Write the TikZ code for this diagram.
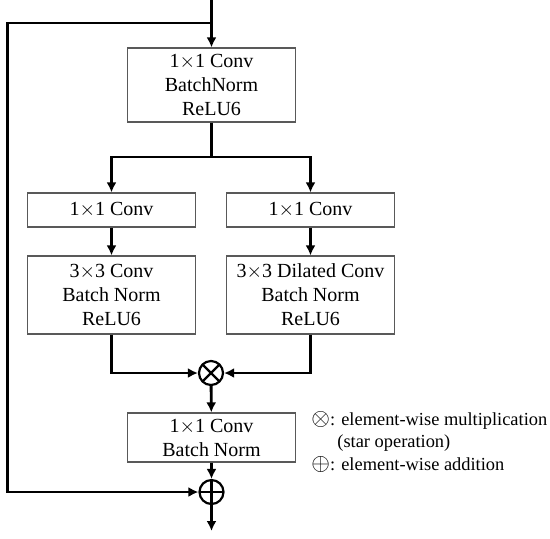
\documentclass[tikz,border=0pt]{standalone}
\usepackage{fontspec}
\setmainfont{Liberation Serif}
\usetikzlibrary{arrows.meta, positioning, calc}

\begin{document}
\begin{tikzpicture}[
  x=0.5pt, y=-0.5pt,
  block/.style = {draw=black!65, line width=0.6pt, minimum width=84pt, align=center, inner sep=2pt},
  op/.style = {draw, line width=1.1pt, circle, minimum size=12pt, inner sep=0pt},
  arrow/.style = {line width=1.4pt, -{Latex[length=5pt,width=5pt]}},
  line/.style = {line width=1.4pt}
]

  % bounding box
  \useasboundingbox (0,0) rectangle (550,538);

  % entry block
  \node[block, minimum height=37pt] (pw) at (211.5,85) {1$\times$1 Conv\\BatchNorm\\ReLU6};

  % two branches
  \node[block, minimum height=17pt] (convl) at (111.5,210) {1$\times$1 Conv};
  \node[block, minimum height=17pt] (convr) at (310.5,210) {1$\times$1 Conv};
  \node[block, minimum height=39pt] (dwl) at (111.5,295) {3$\times$3 Conv\\Batch Norm\\ReLU6};
  \node[block, minimum height=39pt] (dwr) at (310.5,295) {3$\times$3 Dilated Conv\\Batch Norm\\ReLU6};

  % star operation and projection
  \node[op, path picture={
      \draw[line width=1.1pt] (path picture bounding box.north west) -- (path picture bounding box.south east);
      \draw[line width=1.1pt] (path picture bounding box.north east) -- (path picture bounding box.south west);}]
    (mult) at (211,373) {};
  \node[block, minimum height=24.5pt] (proj) at (211.5,437.5) {1$\times$1 Conv\\Batch Norm};
  \node[op, path picture={
      \draw[line width=1.1pt] (path picture bounding box.north) -- (path picture bounding box.south);
      \draw[line width=1.1pt] (path picture bounding box.west) -- (path picture bounding box.east);}]
    (add) at (211.5,492) {};

  % legend
  \node[anchor=north west, align=left, inner sep=0pt, font=\fontsize{9.2pt}{11.2pt}\selectfont] (legend) at (311,411)
    {{\large$\otimes$}: element-wise multiplication\\\hspace{13pt}(star operation)\\{\large$\oplus$}: element-wise addition};

  \coordinate (in) at (211.5,0);
  \coordinate (split) at (211.5,23);
  \coordinate (skip) at (7.5,492);
  \coordinate (fork) at (211.5,157);
  \coordinate (out) at (211.5,531);

  \draw[arrow] (in) -- (pw);
  \draw[arrow] (split) -| (skip) -- (add);
  \draw[line] (pw) -- (fork);
  \draw[arrow] (fork) -| (convl);
  \draw[arrow] (fork) -| (convr);
  \draw[arrow] (convl) -- (dwl);
  \draw[arrow] (convr) -- (dwr);
  \draw[arrow] (dwl) |- (mult);
  \draw[arrow] (dwr) |- (mult);
  \draw[arrow] (mult) -- (proj);
  \draw[arrow] (proj) -- (add);
  \draw[arrow] (add) -- (out);

\end{tikzpicture}
\end{document}
